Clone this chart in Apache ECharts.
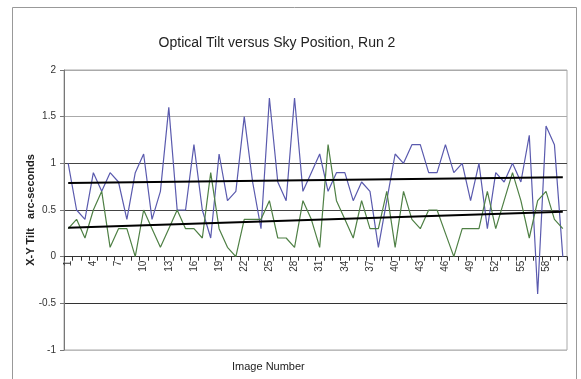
<!DOCTYPE html>
<html>
<head>
<meta charset="utf-8">
<script src="https://cdn.jsdelivr.net/npm/echarts@6/dist/echarts.min.js"></script>
<style>
  html, body { margin: 0; padding: 0; background: #fff; }
  #chart { width: 581px; height: 379px; }
</style>
</head>
<body>
<div id="chart"></div>
<script>
var categories = ['1','2','3','4','5','6','7','8','9','10','11','12','13','14','15','16','17','18','19','20',
  '21','22','23','24','25','26','27','28','29','30','31','32','33','34','35','36','37','38','39','40',
  '41','42','43','44','45','46','47','48','49','50','51','52','53','54','55','56','57','58','59','60'];

var blueTilt = [1.0,0.5,0.4,0.9,0.7,0.9,0.8,0.4,0.9,1.1, 0.4,0.7,1.6,0.5,0.5,1.2,0.5,0.2,1.1,0.6,
  0.7,1.5,0.8,0.3,1.7,0.8,0.6,1.7,0.7,0.9, 1.1,0.7,0.9,0.9,0.6,0.8,0.7,0.1,0.6,1.1,
  1.0,1.2,1.2,0.9,0.9,1.2,0.9,1.0,0.6,1.0, 0.3,0.9,0.8,1.0,0.8,1.3,-0.4,1.4,1.2,0.0];

var greenTilt = [0.3,0.4,0.2,0.5,0.7,0.1,0.3,0.3,0.0,0.5, 0.3,0.1,0.3,0.5,0.3,0.3,0.2,0.9,0.3,0.1,
  0.0,0.4,0.4,0.4,0.6,0.2,0.2,0.1,0.6,0.4, 0.1,1.2,0.6,0.4,0.2,0.6,0.3,0.3,0.7,0.1,
  0.7,0.4,0.3,0.5,0.5,0.25,0.0,0.3,0.3,0.3, 0.7,0.3,0.6,0.9,0.6,0.2,0.6,0.7,0.4,0.3];

// trend line end values (first and last image)
var blueTrend = [0.79, 0.85];
var greenTrend = [0.31, 0.48];

var font = 'Liberation Sans, Arial, sans-serif';

var option = {
  backgroundColor: '#fff',
  animation: false,
  title: {
    text: 'Optical Tilt versus Sky Position, Run 2',
    left: 272, top: 31, textAlign: 'center',
    textStyle: { fontFamily: font, fontSize: 14, fontWeight: 'normal', color: '#222' }
  },
  graphic: [
    { type: 'rect', shape: { x: 12.5, y: 7.5, width: 564, height: 372 },
      style: { fill: 'none', stroke: '#999', lineWidth: 1 }, silent: true },
    { type: 'text', left: 232, top: 361,
      style: { text: 'Image Number', font: '11px ' + font, fill: '#222' } }
  ],
  grid: {
    left: 64, right: 14, top: 70, bottom: 29,
    show: true, borderColor: '#aaa', borderWidth: 1
  },
  xAxis: {
    type: 'category',
    data: categories,
    boundaryGap: true,
    offset: -93.3,   // x axis crosses at y = 0
    axisLine: { onZero: false, lineStyle: { color: '#333', width: 1 } },
    axisTick: { show: true, length: 4, interval: 0, lineStyle: { color: '#333' } },
    axisLabel: {
      interval: 2, rotate: 90, fontSize: 10, fontFamily: font, color: '#333', margin: 4
    },
    splitLine: { show: false }
  },
  yAxis: {
    type: 'value',
    min: -1, max: 2, interval: 0.5,
    name: 'X-Y Tilt   arc-seconds',
    nameLocation: 'middle', nameGap: 28, nameRotate: 90, nameMoveOverlap: false,
    nameTextStyle: { fontFamily: font, fontSize: 11, fontWeight: 'bold', color: '#222' },
    axisLine: { show: true, lineStyle: { color: '#777' } },
    axisTick: { show: true, length: 4, lineStyle: { color: '#777' } },
    axisLabel: { fontSize: 10, fontFamily: font, color: '#333', margin: 8 },
    splitLine: {
      show: true,
      lineStyle: { color: ['#bbb', '#333', '#333', '#444', '#444', '#aaa', '#aaa'], width: 1 }
    }
  },
  series: [
    { name: 'X-Y Tilt', type: 'line', data: blueTilt, showSymbol: false,
      lineStyle: { color: '#5a5aae', width: 1.2 }, z: 3 },
    { name: 'Green', type: 'line', data: greenTilt, showSymbol: false,
      lineStyle: { color: '#4f8045', width: 1.2 }, z: 3 },
    { name: 'Blue trend', type: 'line', showSymbol: false,
      data: [[categories[0], blueTrend[0]], [categories[categories.length - 1], blueTrend[1]]],
      lineStyle: { color: '#000', width: 2 }, z: 4 },
    { name: 'Green trend', type: 'line', showSymbol: false,
      data: [[categories[0], greenTrend[0]], [categories[categories.length - 1], greenTrend[1]]],
      lineStyle: { color: '#000', width: 2 }, z: 4 }
  ]
};

var myChart = echarts.init(document.getElementById('chart'));
myChart.setOption(option);
</script>
</body>
</html>
